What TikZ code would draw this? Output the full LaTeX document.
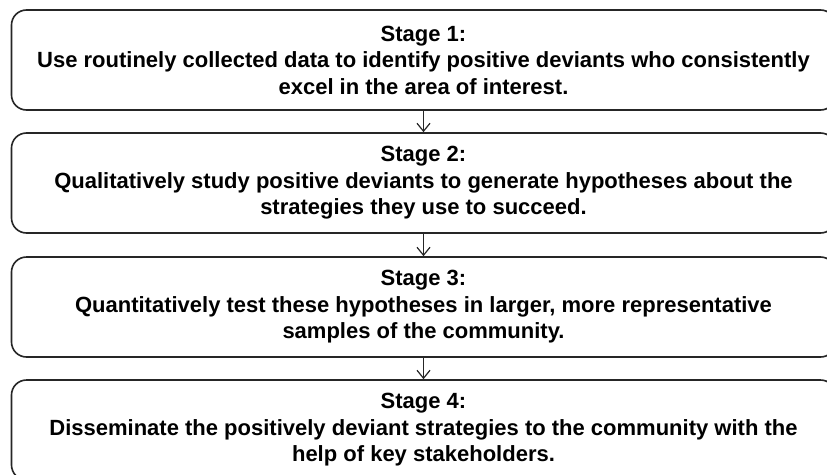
\documentclass[tikz,border=0pt]{standalone}
\usepackage{fontspec}
\setmainfont{Liberation Sans}
\usetikzlibrary{arrows.meta}
\begin{document}
\begin{tikzpicture}[x=1pt,y=-1pt,
  stagebox/.style={draw=black!85, line width=1.6pt, rounded corners=15pt,
    minimum width=824pt, minimum height=100pt, text width=790pt, align=flush center,
    inner sep=0pt, font=\fontsize{22}{26.5}\selectfont\bfseries},
  flowarrow/.style={draw=black!85, line width=1.2pt, -{Straight Barb[length=8pt,width=13pt,line width=1.2pt]}}]
\useasboundingbox (0,0) rectangle (827,474);
\fill[white] (0,0) rectangle (827,474);
\node[stagebox] (s1) at (423.5,60) {Stage 1:\\Use routinely collected data to identify positive deviants who consistently\\excel in the area of interest.};
\node[stagebox] (s2) at (423.5,183) {Stage 2:\\Qualitatively study positive deviants to generate hypotheses about the\\strategies they use to succeed.};
\node[stagebox] (s3) at (423.5,307) {Stage 3:\\Quantitatively test these hypotheses in larger, more representative\\samples of the community.};
\node[stagebox] (s4) at (423.5,430) {Stage 4:\\Disseminate the positively deviant strategies to the community with the\\help of key stakeholders.};
\draw[flowarrow] (s1.south) -- (s2.north);
\draw[flowarrow] (s2.south) -- (s3.north);
\draw[flowarrow] (s3.south) -- (s4.north);
\end{tikzpicture}
\end{document}
